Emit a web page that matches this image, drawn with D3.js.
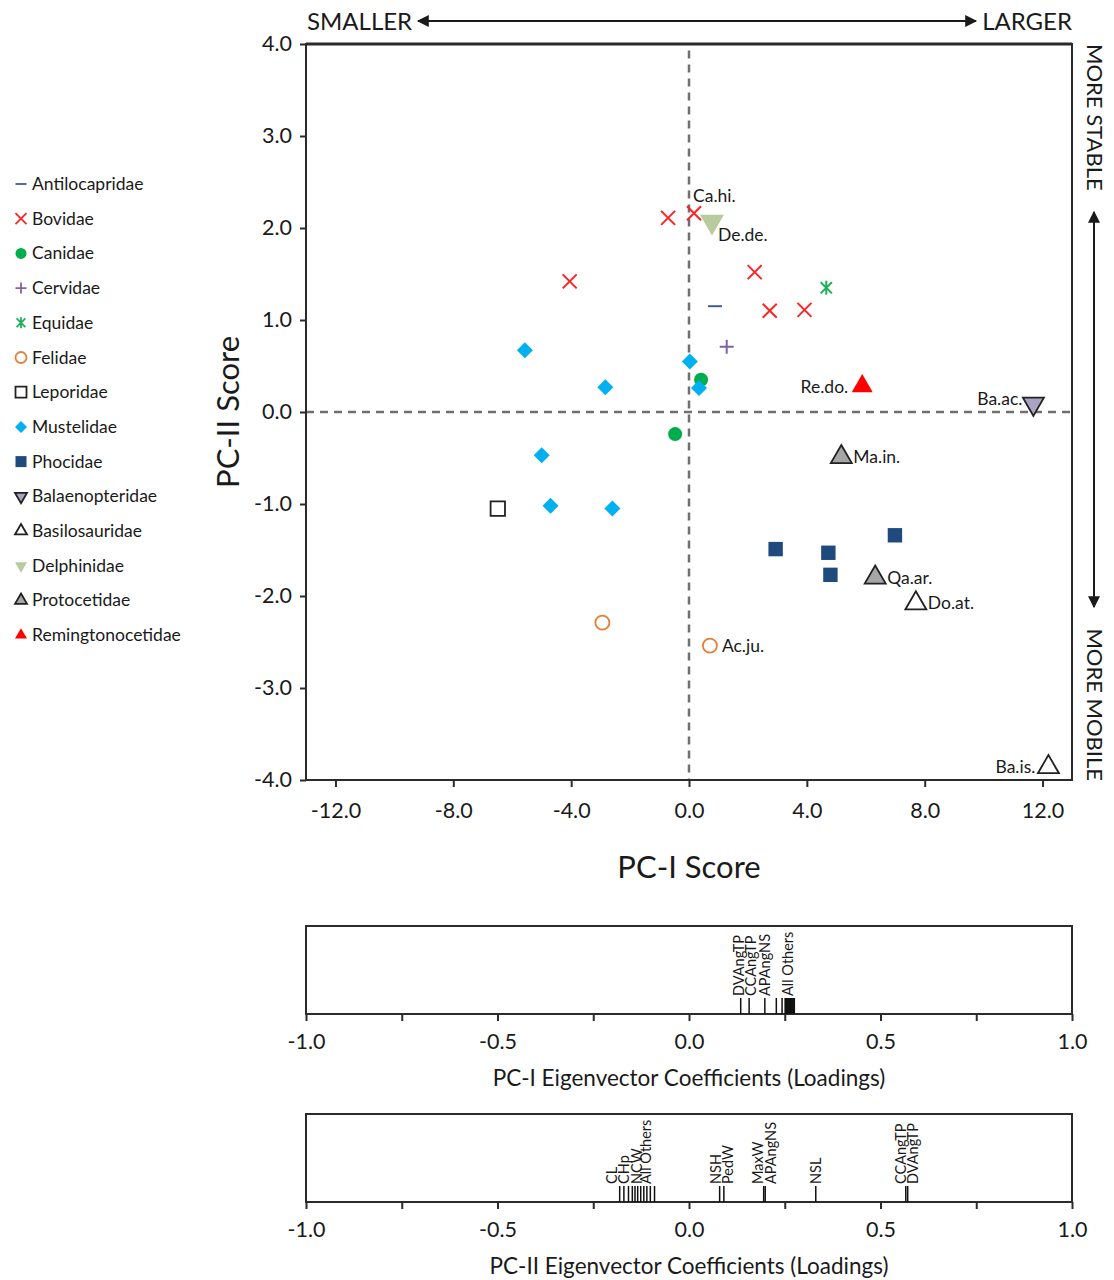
<!DOCTYPE html>
<html>
  <head>
    <meta charset="utf-8">
    <title>PC scores and loadings</title>
    <script src="https://cdn.jsdelivr.net/npm/d3@7"></script>
    <style>
      body { margin: 0; background: #fff; }
      svg text { font-family: Lato, "Open Sans", sans-serif; fill: #1a1a1a; }
    </style>
  </head>
  <body>
    <svg id="chart" width="1114" height="1280"></svg>
    <script>
      // ---- data ----
      var families = ["Antilocapridae", "Bovidae", "Canidae", "Cervidae", "Equidae", "Felidae",
        "Leporidae", "Mustelidae", "Phocidae", "Balaenopteridae", "Basilosauridae",
        "Delphinidae", "Protocetidae", "Remingtonocetidae"];
      var scores = [
        {family: "Antilocapridae", pc1: 0.88, pc2: 1.15},
        {family: "Bovidae", pc1: -0.71, pc2: 2.11},
        {family: "Bovidae", pc1: 0.17, pc2: 2.16, label: "Ca.hi."},
        {family: "Bovidae", pc1: -4.05, pc2: 1.42},
        {family: "Bovidae", pc1: 2.23, pc2: 1.52},
        {family: "Bovidae", pc1: 2.74, pc2: 1.10},
        {family: "Bovidae", pc1: 3.92, pc2: 1.11},
        {family: "Canidae", pc1: 0.41, pc2: 0.35},
        {family: "Canidae", pc1: -0.47, pc2: -0.24},
        {family: "Cervidae", pc1: 1.28, pc2: 0.71},
        {family: "Equidae", pc1: 4.66, pc2: 1.35},
        {family: "Felidae", pc1: -2.94, pc2: -2.29},
        {family: "Felidae", pc1: 0.71, pc2: -2.54, label: "Ac.ju."},
        {family: "Leporidae", pc1: -6.49, pc2: -1.05},
        {family: "Mustelidae", pc1: -5.57, pc2: 0.67},
        {family: "Mustelidae", pc1: -2.84, pc2: 0.27},
        {family: "Mustelidae", pc1: 0.03, pc2: 0.55},
        {family: "Mustelidae", pc1: 0.34, pc2: 0.26},
        {family: "Mustelidae", pc1: -5.0, pc2: -0.47},
        {family: "Mustelidae", pc1: -4.70, pc2: -1.02},
        {family: "Mustelidae", pc1: -2.60, pc2: -1.05},
        {family: "Phocidae", pc1: 2.94, pc2: -1.49},
        {family: "Phocidae", pc1: 4.73, pc2: -1.53},
        {family: "Phocidae", pc1: 4.80, pc2: -1.77},
        {family: "Phocidae", pc1: 6.99, pc2: -1.34},
        {family: "Balaenopteridae", pc1: 11.69, pc2: 0.09, label: "Ba.ac."},
        {family: "Basilosauridae", pc1: 7.70, pc2: -2.08, label: "Do.at."},
        {family: "Basilosauridae", pc1: 12.2, pc2: -3.86, label: "Ba.is."},
        {family: "Delphinidae", pc1: 0.78, pc2: 2.07, label: "De.de."},
        {family: "Protocetidae", pc1: 5.17, pc2: -0.49, label: "Ma.in."},
        {family: "Protocetidae", pc1: 6.32, pc2: -1.80, label: "Qa.ar."},
        {family: "Remingtonocetidae", pc1: 5.88, pc2: 0.28, label: "Re.do."}
      ];
      var scoreXTicks = [-12, -8, -4, 0, 4, 8, 12];
      var scoreYTicks = [-4, -3, -2, -1, 0, 1, 2, 3, 4];
      var loadingTicks = [-1, -0.75, -0.5, -0.25, 0, 0.25, 0.5, 0.75, 1];
      var loadingTickLabels = [-1, -0.5, 0, 0.5, 1];

      // PC-I loadings (one line per variable)
      var pc1Loadings = [0.135, 0.157, 0.198, 0.228, 0.243, 0.251, 0.253, 0.255, 0.257,
        0.259, 0.261, 0.263, 0.265, 0.267, 0.269, 0.271, 0.273, 0.275];
      var pc1Labels = ["DVAngTP", "CCAngTP", "APAngNS", "All Others"];
      var pc1LabelValues = [0.135, 0.157, 0.198, 0.258];
      // PC-II loadings
      var pc2Loadings = [-0.181, -0.17, -0.158, -0.148, -0.141, -0.134, -0.126, -0.118,
        -0.11, -0.101, -0.09, 0.080, 0.091, 0.195, 0.199, 0.331, 0.566, 0.571];
      var pc2Labels = ["CL", "CHp", "NCW", "All Others", "NSH", "PedW", "MaxW", "APAngNS",
        "NSL", "CCAngTP", "DVAngTP"];
      var pc2LabelValues = [-0.181, -0.17, -0.158, -0.112, 0.080, 0.091, 0.195, 0.199,
        0.331, 0.566, 0.571];

      // ---- styles ----
      var familyStyle = {
        Antilocapridae: {shape: "dash", stroke: "#3b5e9b"},
        Bovidae: {shape: "x", stroke: "#ff2323"},
        Canidae: {shape: "circle", fill: "#00ad4c"},
        Cervidae: {shape: "plus", stroke: "#8063a1"},
        Equidae: {shape: "asterisk", stroke: "#1db25a"},
        Felidae: {shape: "circle", fill: "#fff", stroke: "#e57f3b"},
        Leporidae: {shape: "square", fill: "#fff", stroke: "#222"},
        Mustelidae: {shape: "diamond", fill: "#00b0f0"},
        Phocidae: {shape: "square", fill: "#1f4a7e"},
        Balaenopteridae: {shape: "down", fill: "#aaa3c2", stroke: "#222"},
        Basilosauridae: {shape: "up", fill: "#fff", stroke: "#222"},
        Delphinidae: {shape: "down", fill: "#b8cb9d"},
        Protocetidae: {shape: "up", fill: "#a6a6a6", stroke: "#222"},
        Remingtonocetidae: {shape: "up", fill: "#ff0000"}
      };

      function symbolPath(shape, s) {
        var w, h;
        switch (shape) {
          case "dash": return "M" + (-s) + ",0H" + s;
          case "x": return "M" + (-s) + "," + (-s) + "L" + s + "," + s + "M" + (-s) + "," + s + "L" + s + "," + (-s);
          case "plus": return "M" + (-s) + ",0H" + s + "M0," + (-s) + "V" + s;
          case "asterisk":
            var a = s * 0.8;
            return "M" + (-a) + "," + (-a) + "L" + a + "," + a + "M" + (-a) + "," + a + "L" + a + "," + (-a) + "M0," + (-s) + "V" + s;
          case "circle": return d3.symbol(d3.symbolCircle, Math.PI * s * s)();
          case "square": return "M" + (-s) + "," + (-s) + "H" + s + "V" + s + "H" + (-s) + "Z";
          case "diamond": return "M0," + (-s) + "L" + s + ",0L0," + s + "L" + (-s) + ",0Z";
          case "up":
            w = s * 1.5; h = s * 1.3;
            return "M0," + (-h * 2 / 3) + "L" + (w / 2) + "," + (h / 3) + "L" + (-w / 2) + "," + (h / 3) + "Z";
          case "down":
            w = s * 1.5; h = s * 1.3;
            return "M0," + (h * 2 / 3) + "L" + (w / 2) + "," + (-h / 3) + "L" + (-w / 2) + "," + (-h / 3) + "Z";
        }
      }
      function baseSize(shape) {
        if (shape === "up" || shape === "down") return 14;
        if (shape === "diamond") return 8;
        if (shape === "square") return 7.2;
        return 7;
      }
      function styleMark(sel, family) {
        var st = familyStyle[family];
        var lineShape = ["dash", "x", "plus", "asterisk"].indexOf(st.shape) >= 0;
        sel.attr("fill", lineShape ? "none" : (st.fill || "none"))
          .attr("stroke", st.stroke || "none")
          .attr("stroke-width", lineShape ? 2 : 1.8)
          .attr("stroke-linejoin", "miter");
      }

      var svg = d3.select("#chart");
      var defs = svg.append("defs");
      defs.append("marker")
          .attr("id", "arrow")
          .attr("viewBox", "0 0 10 10")
          .attr("refX", 9).attr("refY", 5)
          .attr("markerWidth", 20).attr("markerHeight", 12)
          .attr("markerUnits", "userSpaceOnUse")
          .attr("orient", "auto-start-reverse")
        .append("path")
          .attr("d", "M0,0L10,5L0,10Z")
          .attr("fill", "#1a1a1a");

      // ---- main scatter ----
      var x = d3.scaleLinear().domain([-13, 13]).range([306, 1072]);
      var y = d3.scaleLinear().domain([-4, 4]).range([780, 44]);

      // zero lines
      svg.append("line")
          .attr("x1", x(0)).attr("x2", x(0))
          .attr("y1", y(3.93)).attr("y2", y(-4))
          .attr("stroke", "#707070").attr("stroke-width", 2.5)
          .attr("stroke-dasharray", "8,6");
      svg.append("line")
          .attr("x1", x(-13)).attr("x2", x(13))
          .attr("y1", y(0)).attr("y2", y(0))
          .attr("stroke", "#707070").attr("stroke-width", 2.5)
          .attr("stroke-dasharray", "8,6");

      svg.append("rect")
          .attr("x", x(-13)).attr("y", y(4))
          .attr("width", x(13) - x(-13)).attr("height", y(-4) - y(4))
          .attr("fill", "none").attr("stroke", "#2b2b2b").attr("stroke-width", 2);
      svg.append("line")
          .attr("x1", x(-13)).attr("x2", x(13))
          .attr("y1", y(4)).attr("y2", y(4))
          .attr("stroke", "#2b2b2b").attr("stroke-width", 3);

      var fmt = function(d) { return d.toFixed(1); };
      var xAxis = svg.append("g")
          .attr("transform", "translate(0," + y(-4) + ")")
          .call(d3.axisBottom(x).tickValues(scoreXTicks).tickFormat(fmt).tickSize(7).tickPadding(16));
      var yAxis = svg.append("g")
          .attr("transform", "translate(" + x(-13) + ",0)")
          .call(d3.axisLeft(y).tickValues(scoreYTicks).tickFormat(fmt).tickSize(6).tickPadding(8));
      [xAxis, yAxis].forEach(function(ax) {
        ax.select(".domain").remove();
        ax.selectAll(".tick line").attr("stroke", "#2b2b2b").attr("stroke-width", 2);
        ax.selectAll(".tick text").attr("font-size", 21.5).attr("fill", "#1a1a1a")
          .style("font-family", "Lato, sans-serif");
      });

      // points
      svg.append("g").selectAll("path")
          .data(scores)
        .enter().append("path")
          .attr("transform", function(d) { return "translate(" + x(d.pc1) + "," + y(d.pc2) + ")"; })
          .attr("d", function(d) {
            var shape = familyStyle[d.family].shape;
            var s = baseSize(shape);
            if (d.family === "Delphinidae") s = 16;
            return symbolPath(shape, s);
          })
          .each(function(d) { styleMark(d3.select(this), d.family); });

      // point labels
      var labelPlacement = {
        "Ca.hi.": {dx: -1, dy: -11, anchor: "start"},
        "De.de.": {dx: 6, dy: 19, anchor: "start"},
        "Re.do.": {dx: -14, dy: 7, anchor: "end"},
        "Ba.ac.": {dx: -11, dy: 1, anchor: "end"},
        "Ba.is.": {dx: -13, dy: 6, anchor: "end"}
      };
      svg.append("g").selectAll("text")
          .data(scores.filter(function(d) { return d.label; }))
        .enter().append("text")
          .attr("x", function(d) {
            var p = labelPlacement[d.label] || {dx: 12};
            return x(d.pc1) + p.dx;
          })
          .attr("y", function(d) {
            var p = labelPlacement[d.label] || {dy: 6};
            return y(d.pc2) + p.dy;
          })
          .attr("text-anchor", function(d) {
            var p = labelPlacement[d.label];
            return p ? p.anchor : "start";
          })
          .attr("font-size", 17.5)
          .text(function(d) { return d.label; });

      // axis titles
      svg.append("text")
          .attr("x", x(0)).attr("y", 878)
          .attr("text-anchor", "middle").attr("font-size", 31)
          .text("PC-I Score");
      svg.append("text")
          .attr("transform", "translate(239," + y(0) + ") rotate(-90)")
          .attr("text-anchor", "middle").attr("font-size", 31)
          .text("PC-II Score");

      // direction annotations
      svg.append("text")
          .attr("x", 307).attr("y", 30).attr("font-size", 24)
          .text("SMALLER");
      svg.append("text")
          .attr("x", 1072).attr("y", 30).attr("font-size", 24).attr("text-anchor", "end")
          .text("LARGER");
      svg.append("line")
          .attr("x1", 418).attr("x2", 976).attr("y1", 21).attr("y2", 21)
          .attr("stroke", "#1a1a1a").attr("stroke-width", 2)
          .attr("marker-start", "url(#arrow)").attr("marker-end", "url(#arrow)");
      svg.append("text")
          .attr("transform", "translate(1087,44) rotate(90)")
          .attr("font-size", 22)
          .text("MORE STABLE");
      svg.append("text")
          .attr("transform", "translate(1087,781) rotate(90)")
          .attr("font-size", 22).attr("text-anchor", "end")
          .text("MORE MOBILE");
      svg.append("line")
          .attr("x1", 1094).attr("x2", 1094).attr("y1", 212).attr("y2", 607)
          .attr("stroke", "#1a1a1a").attr("stroke-width", 2)
          .attr("marker-start", "url(#arrow)").attr("marker-end", "url(#arrow)");

      // legend
      var legend = svg.append("g").attr("transform", "translate(21,184)");
      var rows = legend.selectAll("g")
          .data(families)
        .enter().append("g")
          .attr("transform", function(d, i) { return "translate(0," + (i * 34.7) + ")"; });
      rows.append("path")
          .attr("d", function(d) {
            var shape = familyStyle[d].shape;
            var s = (shape === "up" || shape === "down") ? 8 : (shape === "diamond" ? 6 : 5.5);
            return symbolPath(shape, s);
          })
          .each(function(d) {
            styleMark(d3.select(this), d);
            d3.select(this).attr("stroke-width", 1.8);
          });
      rows.append("text")
          .attr("x", 11).attr("y", 6)
          .attr("font-size", 17.5)
          .text(function(d) { return d; });

      // ---- loadings panels ----
      var xl = d3.scaleLinear().domain([-1, 1]).range([306, 1072]);

      // spread crowded labels apart, each cluster centred on its anchors
      function spreadLabels(values, gap) {
        var pos = values.map(function(v) { return xl(v); });
        var clusters = [];
        pos.forEach(function(p) {
          var last = clusters[clusters.length - 1];
          if (last && p - last.end < gap) {
            last.items.push(p);
            last.end = p;
          } else {
            clusters.push({items: [p], end: p});
          }
        });
        var out = [];
        clusters.forEach(function(c) {
          var mean = d3.mean(c.items);
          var start = mean - gap * (c.items.length - 1) / 2;
          c.items.forEach(function(p, i) { out.push(start + i * gap); });
        });
        return out;
      }

      function loadingPanel(top, bottom, loadings, labels, labelValues, title, titleY) {
        var g = svg.append("g");
        g.append("rect")
            .attr("x", xl(-1)).attr("y", top)
            .attr("width", xl(1) - xl(-1)).attr("height", bottom - top)
            .attr("fill", "none").attr("stroke", "#2b2b2b").attr("stroke-width", 2);
        g.selectAll(".load")
            .data(loadings)
          .enter().append("line")
            .attr("class", "load")
            .attr("x1", function(d) { return xl(d); })
            .attr("x2", function(d) { return xl(d); })
            .attr("y1", bottom).attr("y2", bottom - 16)
            .attr("stroke", "#111").attr("stroke-width", 1.5);
        var lx = spreadLabels(labelValues, 12.5);
        g.selectAll(".lab")
            .data(labels)
          .enter().append("text")
            .attr("class", "lab")
            .attr("transform", function(d, i) { return "translate(" + lx[i] + "," + (bottom - 18) + ") rotate(-90)"; })
            .attr("dy", "0.36em")
            .attr("font-size", 14.5)
            .text(function(d) { return d; });
        var ax = g.append("g")
            .attr("transform", "translate(0," + bottom + ")")
            .call(d3.axisBottom(xl).tickValues(loadingTicks).tickSize(7).tickPadding(13)
              .tickFormat(function(d) { return loadingTickLabels.indexOf(d) >= 0 ? d.toFixed(1) : ""; }));
        ax.select(".domain").remove();
        ax.selectAll(".tick line").attr("stroke", "#2b2b2b").attr("stroke-width", 2);
        ax.selectAll(".tick text").attr("font-size", 21.5).attr("fill", "#1a1a1a")
          .style("font-family", "Lato, sans-serif");
        g.append("text")
            .attr("x", xl(0)).attr("y", titleY)
            .attr("text-anchor", "middle").attr("font-size", 22.5)
            .text(title);
      }

      loadingPanel(926, 1014, pc1Loadings, pc1Labels, pc1LabelValues,
        "PC-I Eigenvector Coefficients (Loadings)", 1086);
      loadingPanel(1114, 1202, pc2Loadings, pc2Labels, pc2LabelValues,
        "PC-II Eigenvector Coefficients (Loadings)", 1274);
    </script>
  </body>
</html>
